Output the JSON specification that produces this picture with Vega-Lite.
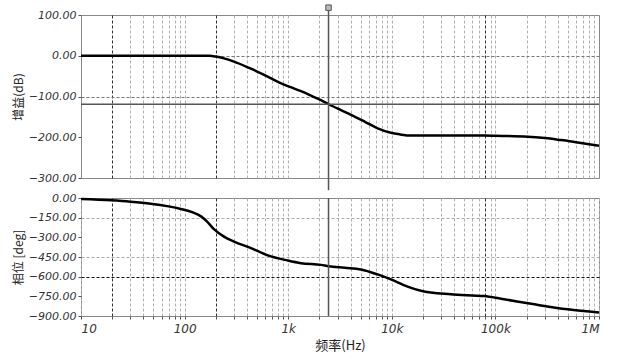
{
  "$schema": "https://vega.github.io/schema/vega-lite/v6.json",
  "padding": {"left": 11, "top": 2, "right": 0, "bottom": 0},
  "background": "white",
  "config": {
    "font": "Liberation Sans",
    "view": {"stroke": "#888", "strokeWidth": 1},
    "axis": {
      "labelFont": "DejaVu Sans",
      "labelFontStyle": "oblique",
      "labelColor": "#333",
      "labelFontSize": 11,
      "titleFont": "Noto Sans CJK SC",
      "titleFontWeight": "normal",
      "titleFontSize": 12,
      "titleColor": "#222",
      "domain": false,
      "tickColor": "#555"
    }
  },
  "datasets": {
    "gain": [
      {"f": 10, "v": 0}, {"f": 50, "v": 0}, {"f": 100, "v": 0}, {"f": 150, "v": 0.3}, {"f": 175, "v": 0},
      {"f": 200, "v": -2}, {"f": 240, "v": -6.5}, {"f": 300, "v": -14.6}, {"f": 420, "v": -30}, {"f": 546, "v": -43},
      {"f": 700, "v": -57}, {"f": 912, "v": -71}, {"f": 1100, "v": -79}, {"f": 1330, "v": -87}, {"f": 1700, "v": -99},
      {"f": 2070, "v": -109}, {"f": 2460, "v": -119}, {"f": 3200, "v": -133}, {"f": 4040, "v": -145},
      {"f": 5500, "v": -162}, {"f": 7300, "v": -178}, {"f": 9800, "v": -189}, {"f": 12000, "v": -193},
      {"f": 15300, "v": -196}, {"f": 30000, "v": -196}, {"f": 77700, "v": -196}, {"f": 100000, "v": -196.5},
      {"f": 204000, "v": -198.6}, {"f": 300000, "v": -202}, {"f": 431000, "v": -207}, {"f": 600000, "v": -212},
      {"f": 800000, "v": -217}, {"f": 1000000, "v": -221}
    ],
    "phase": [
      {"f": 10, "v": -8}, {"f": 19.5, "v": -18}, {"f": 30, "v": -28}, {"f": 47, "v": -43}, {"f": 70, "v": -64},
      {"f": 92, "v": -84}, {"f": 120, "v": -110}, {"f": 144, "v": -140}, {"f": 165, "v": -180}, {"f": 192, "v": -238},
      {"f": 240, "v": -295}, {"f": 300, "v": -333}, {"f": 437, "v": -382}, {"f": 635, "v": -438}, {"f": 990, "v": -477},
      {"f": 1330, "v": -497}, {"f": 2070, "v": -510}, {"f": 2460, "v": -520}, {"f": 3500, "v": -532}, {"f": 5050, "v": -545},
      {"f": 7300, "v": -583}, {"f": 9800, "v": -621}, {"f": 14200, "v": -676}, {"f": 19100, "v": -708},
      {"f": 37000, "v": -735}, {"f": 78000, "v": -748}, {"f": 113000, "v": -768}, {"f": 238000, "v": -811},
      {"f": 499000, "v": -849}, {"f": 1000000, "v": -874}
    ],
    "cursor": [{"f": 2450, "g": -119, "top": 118, "bottom": -330}]
  },
  "vconcat": [
    {
      "width": 518,
      "height": 163,
      "layer": [
        {
          "data": {"name": "gain"},
          "mark": {"type": "line", "color": "black", "strokeWidth": 2.5, "interpolate": "monotone"},
          "encoding": {
            "x": {
              "field": "f", "type": "quantitative",
              "scale": {"type": "log", "domain": [10, 1000000], "nice": false},
              "axis": {
                "values": [20,30,40,50,60,70,80,90,100,200,300,400,500,600,700,800,900,1000,2000,3000,4000,5000,6000,7000,8000,9000,10000,20000,30000,40000,50000,60000,70000,80000,90000,100000,200000,300000,400000,500000,600000,700000,800000,900000],
                "labels": false, "ticks": false, "title": null, "grid": true,
                "gridDash": [3, 2],
                "gridColor": {"condition": {"test": "datum.value == 20 || datum.value == 200 || datum.value == 80000", "value": "#333"}, "value": "#b0b0b0"},
                "gridWidth": 1
              }
            },
            "y": {
              "field": "v", "type": "quantitative",
              "scale": {"domain": [-300, 100], "nice": false},
              "axis": {
                "values": [100, 0, -100, -200, -300],
                "format": ".2f",
                "title": "增益(dB)",
                "tickSize": 3,
                "labelPadding": 2,
                "minExtent": 52, "maxExtent": 52,
                "titlePadding": 4,
                "grid": true,
                "gridDash": [3, 2],
                "gridColor": "#777",
                "gridOpacity": {"condition": {"test": "datum.value == 0 || datum.value == -100", "value": 1}, "value": 0}
              }
            }
          }
        },
        {
          "data": {"name": "cursor"},
          "mark": {"type": "rule", "color": "#555", "strokeWidth": 1.5},
          "encoding": {"y": {"field": "g", "type": "quantitative"}}
        },
        {
          "data": {"name": "cursor"},
          "mark": {"type": "rule", "color": "#555", "strokeWidth": 1.5, "clip": false},
          "encoding": {
            "x": {"field": "f", "type": "quantitative"},
            "y": {"field": "top", "type": "quantitative"},
            "y2": {"field": "bottom"}
          }
        },
        {
          "data": {"name": "cursor"},
          "mark": {"type": "point", "shape": "square", "size": 30, "filled": true, "color": "#bbb", "stroke": "#555", "strokeWidth": 1, "opacity": 1, "clip": false},
          "encoding": {
            "x": {"field": "f", "type": "quantitative"},
            "y": {"field": "top", "type": "quantitative"}
          }
        }
      ]
    },
    {
      "width": 518,
      "height": 118,
      "layer": [
        {
          "data": {"name": "phase"},
          "mark": {"type": "line", "color": "black", "strokeWidth": 2.5, "interpolate": "monotone"},
          "encoding": {
            "x": {
              "field": "f", "type": "quantitative",
              "scale": {"type": "log", "domain": [10, 1000000], "nice": false},
              "axis": {
                "values": [10,20,30,40,50,60,70,80,90,100,200,300,400,500,600,700,800,900,1000,2000,3000,4000,5000,6000,7000,8000,9000,10000,20000,30000,40000,50000,60000,70000,80000,90000,100000,200000,300000,400000,500000,600000,700000,800000,900000,1000000],
                "labelExpr": "datum.value == 10 ? '10' : datum.value == 100 ? '100' : datum.value == 1000 ? '1k' : datum.value == 10000 ? '10k' : datum.value == 100000 ? '100k' : datum.value == 1000000 ? '1M' : ''",
                "labelFontSize": 12,
                "labelPadding": 4,
                "tickSize": 3,
                "title": "频率(Hz)",
                "titleFontSize": 13,
                "titlePadding": 5,
                "grid": true,
                "gridDash": [3, 2],
                "gridColor": {"condition": {"test": "datum.value == 20 || datum.value == 200 || datum.value == 80000", "value": "#333"}, "value": "#b0b0b0"}
              }
            },
            "y": {
              "field": "v", "type": "quantitative",
              "scale": {"domain": [-900, 0], "nice": false},
              "axis": {
                "values": [0, -150, -300, -450, -600, -750, -900],
                "format": ".2f",
                "title": "相位 [deg]",
                "tickSize": 3,
                "labelPadding": 2,
                "minExtent": 52, "maxExtent": 52,
                "titlePadding": 4,
                "grid": true,
                "gridDash": [3, 2],
                "gridColor": {"condition": {"test": "datum.value == -600", "value": "#111"}, "value": "#aaa"},
                "gridOpacity": {"condition": {"test": "datum.value == -150 || datum.value == -450 || datum.value == -600", "value": 1}, "value": 0}
              }
            }
          }
        },
        {
          "data": {"name": "cursor"},
          "mark": {"type": "rule", "color": "#555", "strokeWidth": 1.5},
          "encoding": {"x": {"field": "f", "type": "quantitative"}}
        }
      ]
    }
  ],
  "spacing": 20,
  "bounds": "flush"
}
